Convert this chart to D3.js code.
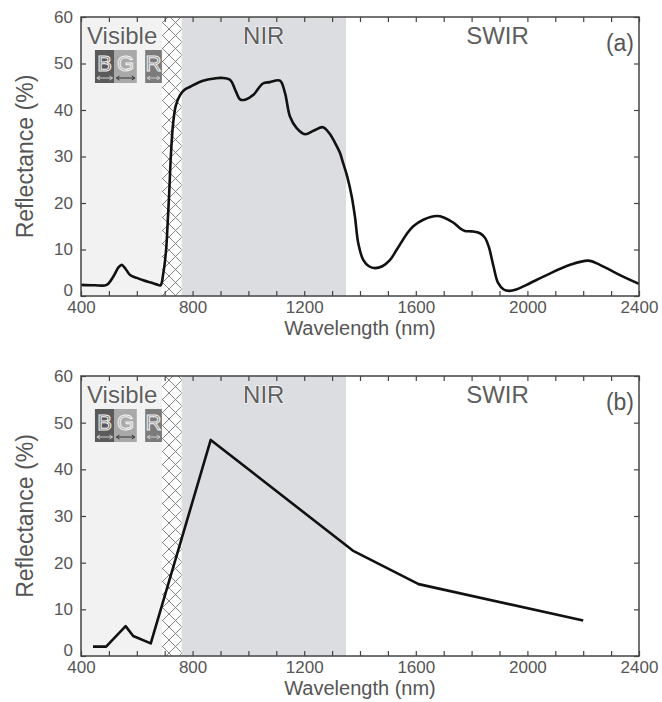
<!DOCTYPE html>
<html lang="en">
<head>
    <meta charset="UTF-8">
    <title>Reflectance spectra</title>
    <script src="https://cdnjs.cloudflare.com/ajax/libs/d3/7.8.5/d3.min.js"></script>
    <style>
        body { margin: 0; background: #fff; }
        svg text { font-family: "Liberation Sans", Arial, sans-serif; }
    </style>
</head>
<body>
<div id="draw-here"></div>
<script>
    // panel (a): full spectrum
    var wavelengthA = [400, 450, 492, 516, 535, 546, 560, 576, 600, 623, 650, 671, 685, 695, 705, 710, 716, 722, 730, 740,
        755, 770, 791, 837, 880, 904, 934, 955, 970, 988, 1017, 1052, 1077, 1113, 1131, 1149, 1173, 1203, 1235, 1267,
        1290, 1310, 1328, 1340, 1355, 1370, 1382, 1394, 1412, 1432, 1454, 1480, 1507, 1532, 1567, 1591, 1627, 1675, 1700, 1734,
        1760, 1776, 1800, 1830, 1848, 1862, 1878, 1895, 1915, 1935, 1960, 1997, 2069, 2153, 2219, 2260, 2332, 2400];
    var reflectanceA = [2.4, 2.3, 2.4, 4.2, 6.2, 6.7, 5.8, 4.5, 3.9, 3.4, 2.9, 2.5, 2.3, 4.9, 9.9, 15, 22, 30, 37, 41,
        43.2, 44.3, 45, 46.3, 46.8, 46.9, 46.5, 44, 42.3, 42.2, 43.2, 45.7, 46.0, 46.3, 43.7, 38.6, 36.1, 34.8, 35.6, 36.3,
        35, 33, 30.8, 28.5, 25.5, 21.5, 17, 11.3, 7.7, 6.4, 6.0, 6.4, 7.7, 10.0, 13.3, 15.0, 16.4, 17.2, 16.9, 15.8,
        14.5, 14.0, 13.9, 13.5, 12.5, 10.5, 6.5, 2.8, 1.4, 1.1, 1.4, 2.4, 4.5, 6.7, 7.6, 6.7, 4.5, 2.6];

    // panel (b): band samples
    var wavelengthB = [443, 490, 560, 587, 650, 865, 1374, 1610, 2200];
    var reflectanceB = [2.0, 2.0, 6.4, 4.3, 2.7, 46.3, 22.6, 15.4, 7.6];

    var regionNames = ["Visible", "NIR", "SWIR"];
    var regionStart = [400, 760, 1350];
    var regionEnd = [700, 1350, 2400];
    var hatchStart = 690, hatchEnd = 760;

    var bandNames = ["B", "G", "R"];
    var bandStart = [450, 520, 630];
    var bandEnd = [520, 600, 690];

    var xLabels = [400, 800, 1200, 1600, 2000, 2400];
    var yLabels = [0, 10, 20, 30, 40, 50, 60];

    var w = 662, h = 702;
    var left = 81, right = 639;

    var svg = d3.select("#draw-here").append("svg")
        .attr("width", w).attr("height", h);

    // crosshatch for the red-edge strip
    var pat = svg.append("defs").append("pattern")
        .attr("id", "hatch")
        .attr("patternUnits", "userSpaceOnUse")
        .attr("x", 0).attr("y", 3)
        .attr("width", 13).attr("height", 13);
    pat.append("rect").attr("width", 13).attr("height", 13).attr("fill", "#fff");
    pat.append("path").attr("d", "M0,0L13,13M13,0L0,13")
        .attr("stroke", "#777").attr("stroke-width", 0.9);

    var x = d3.scaleLinear().domain([400, 2400]).range([left, right]);
    var bandColor = ["#5a5a5a", "#a9a9a9", "#7b7b7b"];
    var arrowColor = ["#d0d0d0", "#333", "#d0d0d0"];

    function drawPanel(top, bottom, xs, ys, tag, curved) {
        var y = d3.scaleLinear().domain([0, 60]).range([bottom, top]);
        var g = svg.append("g");

        // background regions
        var bg = ["#f2f2f2", "#dcdde0", "#ffffff"];
        g.selectAll("rect.region").data(regionNames).enter().append("rect")
            .attr("x", function (d, i) { return x(regionStart[i]); })
            .attr("width", function (d, i) { return x(regionEnd[i]) - x(regionStart[i]); })
            .attr("y", top).attr("height", bottom - top)
            .attr("fill", function (d, i) { return bg[i]; });
        g.append("rect")
            .attr("x", x(hatchStart)).attr("width", x(hatchEnd) - x(hatchStart))
            .attr("y", top).attr("height", bottom - top)
            .attr("fill", "url(#hatch)");

        // region names
        var nameX = [x(400) + 6, (x(760) + x(1350)) / 2, (x(1350) + x(2400)) / 2 + 5];
        var anchor = ["start", "middle", "middle"];
        g.selectAll("text.region").data(regionNames).enter().append("text")
            .attr("x", function (d, i) { return nameX[i]; })
            .attr("y", top + 27)
            .attr("text-anchor", function (d, i) { return anchor[i]; })
            .attr("font-size", "24px")
            .attr("fill", "#5e5e5e")
            .attr("stroke", "#fff").attr("stroke-width", 1.2)
            .attr("paint-order", "stroke")
            .text(function (d) { return d; });

        // visible band boxes
        var bands = g.selectAll("g.band").data(bandNames).enter().append("g");
        bands.append("rect")
            .attr("x", function (d, i) { return x(bandStart[i]); })
            .attr("width", function (d, i) { return x(bandEnd[i]) - x(bandStart[i]); })
            .attr("y", top + 33).attr("height", 33)
            .attr("fill", function (d, i) { return bandColor[i]; });
        bands.append("text")
            .attr("x", function (d, i) { return (x(bandStart[i]) + x(bandEnd[i])) / 2; })
            .attr("y", top + 54)
            .attr("text-anchor", "middle")
            .attr("font-size", "22px")
            .attr("fill", function (d, i) { return bandColor[i]; })
            .attr("stroke", "#f4f4f4").attr("stroke-width", 1)
            .text(function (d) { return d; });
        bands.append("path")
            .attr("d", function (d, i) {
                var a = x(bandStart[i]) + 2, b = x(bandEnd[i]) - 2, yy = top + 61;
                return "M" + a + "," + yy + "H" + b +
                    "M" + (a + 3) + "," + (yy - 2) + "L" + a + "," + yy + "L" + (a + 3) + "," + (yy + 2) +
                    "M" + (b - 3) + "," + (yy - 2) + "L" + b + "," + yy + "L" + (b - 3) + "," + (yy + 2);
            })
            .attr("fill", "none")
            .attr("stroke", function (d, i) { return arrowColor[i]; })
            .attr("stroke-width", 1);

        // the spectrum
        var pts = xs.map(function (d, i) { return [d, ys[i]]; });
        var line = d3.line()
            .x(function (d) { return x(d[0]); })
            .y(function (d) { return y(d[1]); })
            .curve(curved ? d3.curveCatmullRom.alpha(0.5) : d3.curveLinear);
        g.append("path").datum(pts)
            .attr("d", line)
            .attr("fill", "none")
            .attr("stroke", "#111")
            .attr("stroke-width", 2.6)
            .attr("stroke-linejoin", "round");

        // axes, ticks pointing inward
        var minor = d3.range(400, 2401, 100);
        var xb = g.append("g").attr("transform", "translate(0," + bottom + ")")
            .call(d3.axisBottom(x).tickValues(minor).tickSize(-5).tickSizeOuter(0)
                .tickFormat(function (d) { return xLabels.indexOf(d) >= 0 ? d : ""; }));
        var xt = g.append("g").attr("transform", "translate(0," + top + ")")
            .call(d3.axisTop(x).tickValues(minor).tickSize(-5).tickSizeOuter(0).tickFormat(""));
        var yl = g.append("g").attr("transform", "translate(" + left + ",0)")
            .call(d3.axisLeft(y).tickValues(yLabels).tickSize(-5).tickSizeOuter(0));
        var yr = g.append("g").attr("transform", "translate(" + right + ",0)")
            .call(d3.axisRight(y).tickValues(yLabels).tickSize(-5).tickSizeOuter(0).tickFormat(""));

        [xb, xt, yl, yr].forEach(function (a) {
            a.select(".domain").remove();
            a.selectAll(".tick line").attr("stroke", "#444").attr("stroke-width", 1.2);
            a.selectAll("text").attr("fill", "#555").attr("font-size", "17px")
                .attr("font-family", "'Liberation Sans', Arial, sans-serif");
        });
        xb.selectAll("text").attr("y", 0).attr("dy", "1.0em");
        yl.selectAll("text").attr("x", -8);
        yl.selectAll(".tick").filter(function (d) { return d === 0; })
            .select("text").attr("dy", "-0.05em");

        g.append("rect")
            .attr("x", left).attr("y", top)
            .attr("width", right - left).attr("height", bottom - top)
            .attr("fill", "none").attr("stroke", "#444").attr("stroke-width", 1.5);

        g.append("text")
            .attr("x", right - 5).attr("y", top + 34)
            .attr("text-anchor", "end")
            .attr("font-size", "23px").attr("fill", "#555")
            .text(tag);

        g.append("text")
            .attr("x", (left + right) / 2).attr("y", bottom + 39)
            .attr("text-anchor", "middle")
            .attr("font-size", "20px").attr("fill", "#555")
            .text("Wavelength (nm)");

        g.append("text")
            .attr("transform", "translate(33," + ((top + bottom) / 2) + ") rotate(-90)")
            .attr("text-anchor", "middle")
            .attr("font-size", "23px").attr("fill", "#555")
            .text("Reflectance (%)");
    }

    drawPanel(17, 296, wavelengthA, reflectanceA, "(a)", true);
    drawPanel(376, 656, wavelengthB, reflectanceB, "(b)", false);
</script>
</body>
</html>
